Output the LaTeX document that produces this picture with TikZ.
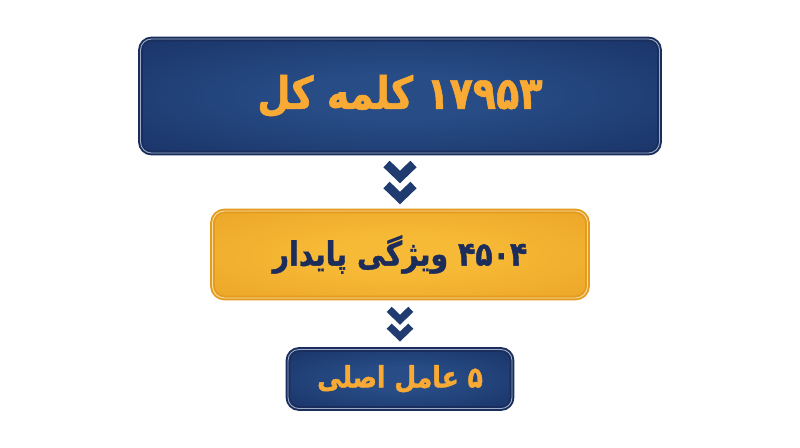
\documentclass[tikz,border=0pt]{standalone}
\usepackage{fontspec}
\newfontfamily\farsifont[Script=Arabic, FakeStretch=0.85, FakeBold=1.2]{DejaVu Sans}
\TeXXeTstate=1
\definecolor{navydark}{HTML}{14295A}
\definecolor{navylight}{HTML}{274C86}
\definecolor{navyedge}{HTML}{1A2E5E}
\definecolor{goldlight}{HTML}{F7BA36}
\definecolor{golddark}{HTML}{E69D22}
\definecolor{goldedge}{HTML}{E49B1F}
\definecolor{goldtext}{HTML}{F8AA35}
\definecolor{inktext}{HTML}{1D2D5B}
\definecolor{chevblue}{HTML}{1F3B6F}
\pgfdeclareradialshading{navyglow}{\pgfpoint{0bp}{0bp}}{color(0bp)=(navylight); color(10bp)=(navylight); color(48bp)=(navydark); color(75bp)=(navydark)}
\pgfdeclareradialshading{goldglow}{\pgfpoint{0bp}{0bp}}{color(0bp)=(goldlight); color(10bp)=(goldlight); color(48bp)=(golddark); color(75bp)=(golddark)}
\begin{document}
\begin{tikzpicture}[line join=round, font=\farsifont\bfseries,
    navybox/.style={draw=navyedge, line width=1.1pt, double=navylight!45!white, double distance=0.5pt,
      shading=navyglow, rounded corners=0.22cm, inner sep=0pt, text=goldtext},
    goldbox/.style={draw=goldedge, line width=1.1pt, double=goldlight!45!white, double distance=0.5pt,
      shading=goldglow, rounded corners=0.24cm, inner sep=0pt, text=inktext},
    chev/.style={draw=chevblue, line cap=butt, miter limit=4, line join=miter}]
  \useasboundingbox (0,0) rectangle (16,8.94);
  \node[navybox, minimum width=10.38cm, minimum height=2.28cm, font=\farsifont\bfseries\fontsize{25.5}{30}\selectfont] (total) at (8,7.02)
    {\beginR\beginL ۱۷۹۵۳\endL{} کلمه کل\endR};
  \node[goldbox, minimum width=7.5cm, minimum height=1.74cm, font=\farsifont\bfseries\fontsize{19}{23}\selectfont] (stable) at (8,3.85)
    {\beginR\beginL ۴۵۰۴\endL{} ویژگی پایدار\endR};
  \node[navybox, minimum width=4.48cm, minimum height=1.18cm, font=\farsifont\bfseries\fontsize{16.8}{20}\selectfont] (factors) at (8,1.36)
    {\beginR\beginL ۵\endL{} عامل اصلی\endR};
  \path (total.south) -- coordinate[midway] (arrA) (stable.north);
  \path (stable.south) -- coordinate[midway] (arrB) (factors.north);
  \foreach \c/\s in {arrA/1, arrB/0.8}
    \foreach \dy in {0.21,-0.21}
      \draw[chev, line width=\s*0.18cm, shift={(\c)}, scale=\s] (-0.27,\dy+0.15) -- (0,\dy-0.11) -- (0.27,\dy+0.15);
\end{tikzpicture}
\end{document}
